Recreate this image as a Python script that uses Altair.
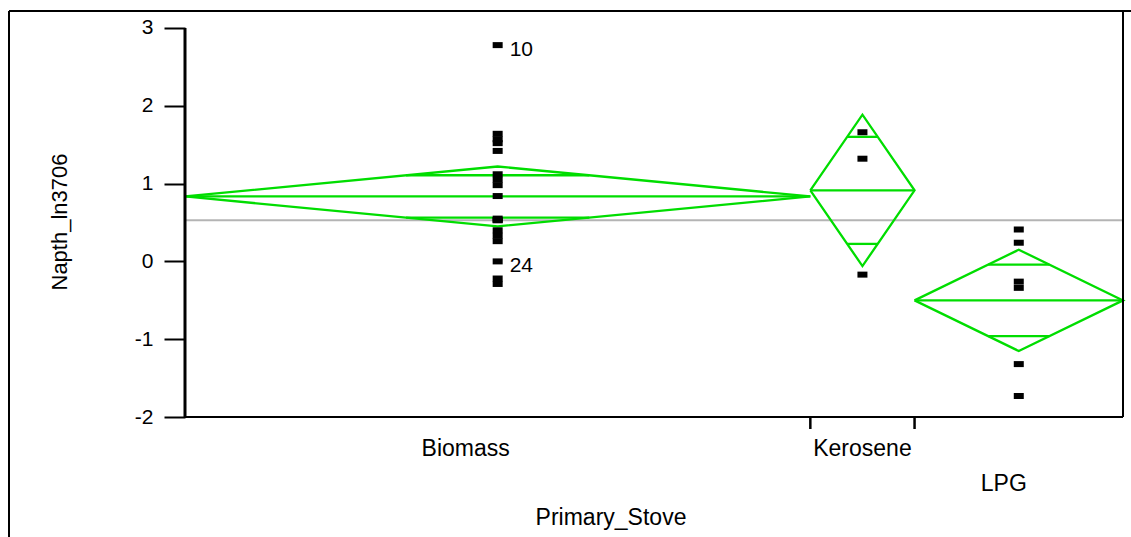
import altair as alt
import pandas as pd
import numpy as np

# ---- data ----
categories = ["Biomass", "Kerosene", "LPG"]
counts = [18, 3, 6]
biomass_vals = [2.78, 1.64, 1.57, 1.52, 1.42, 1.12, 1.05, 0.98, 0.84, 0.55, 0.53,
                0.53, 0.40, 0.33, 0.26, 0.00, -0.22, -0.29]
kerosene_vals = [1.66, 1.32, -0.17]
lpg_vals = [0.41, 0.24, -0.26, -0.34, -1.32, -1.73]
group_means = [0.835, 0.913, -0.501]
ci_half = [0.385, 0.973, 0.651]
grand_mean = 0.53
label_values = [2.78, 0.00]
label_texts = ["10", "24"]
y_ticks = [-2, -1, 0, 1, 2, 3]

FONT = "Liberation Sans"
GREEN = "#00dd00"

starts = np.concatenate([[0], np.cumsum(counts)[:-1]]).tolist()
total = int(sum(counts))
centers = [s + n / 2 for s, n in zip(starts, counts)]

xs = alt.Scale(domain=[0, total], nice=False, zero=False)
ys = alt.Scale(domain=[-2, 3.2185], nice=False, zero=False)
yaxis = alt.Axis(values=y_ticks, domain=False, grid=False, ticks=True, tickSize=21,
                 tickWidth=2, tickColor="black", labelFontSize=21, labelFont=FONT,
                 labelColor="black", labelPadding=11, title=None,
                 labelExpr="'' + datum.value")


def X(f):
    return alt.X(f, type="quantitative", scale=xs, axis=None)


def Y(f):
    return alt.Y(f, type="quantitative", scale=ys, axis=yaxis)


# points
pts = []
for cat, c, vals in zip(categories, centers, [biomass_vals, kerosene_vals, lpg_vals]):
    for v in vals:
        pts.append({"cat": cat, "x": c, "y": v})
pts = pd.DataFrame(pts)

# diamonds
dia = []
for cat, s, n, m, h in zip(categories, starts, counts, group_means, ci_half):
    c = s + n / 2
    seq = [(s, m), (c, m + h), (s + n, m), (c, m - h), (s, m)]
    for i, (xx, yy) in enumerate(seq):
        dia.append({"cat": cat, "o": i, "x": xx, "y": yy})
dia = pd.DataFrame(dia)

means_df = pd.DataFrame({"x": starts, "x2": [s + n for s, n in zip(starts, counts)],
                         "y": group_means})
ov = []
for s, n, m, h in zip(starts, counts, group_means, ci_half):
    c = s + n / 2
    hw = (n / 2) * (1 - 1 / np.sqrt(2))
    for sign in (1, -1):
        ov.append({"x": c - hw, "x2": c + hw, "y": m + sign * h / np.sqrt(2)})
ov = pd.DataFrame(ov)

grand = pd.DataFrame({"x": [0], "x2": [total], "y": [grand_mean]})
lab = pd.DataFrame({"x": [centers[0]] * len(label_values), "y": label_values,
                    "t": label_texts})
axis_line = pd.DataFrame({"y": [min(y_ticks)], "y2": [max(y_ticks)]})
xticks = pd.DataFrame({"x": [starts[1], starts[2]]})
dummy = pd.DataFrame({"a": [0]})

layers = []
layers.append(alt.Chart(grand).mark_rule(color="#b4b4b4", strokeWidth=2).encode(
    x=X("x"), x2="x2", y=Y("y")))
layers.append(alt.Chart(dia).mark_line(color=GREEN, strokeWidth=2.3).encode(
    x=X("x"), y=Y("y"), detail="cat:N", order="o:Q"))
layers.append(alt.Chart(means_df).mark_rule(color=GREEN, strokeWidth=2.3).encode(
    x=X("x"), x2="x2", y=Y("y")))
layers.append(alt.Chart(ov).mark_rule(color=GREEN, strokeWidth=2.3).encode(
    x=X("x"), x2="x2", y=Y("y")))
layers.append(alt.Chart(pts).mark_point(
    shape="M-1,-0.6L1,-0.6L1,0.6L-1,0.6Z", size=100, filled=True, color="black",
    opacity=1, strokeWidth=0).encode(x=X("x"), y=Y("y")))
layers.append(alt.Chart(lab).mark_text(align="left", baseline="middle", dx=12, dy=5,
                                       fontSize=21, font=FONT, color="black").encode(
    x=X("x"), y=Y("y"), text="t:N"))
# left axis line
layers.append(alt.Chart(axis_line).mark_rule(color="black", strokeWidth=3).encode(
    x=alt.value(0), y=Y("y"), y2="y2"))
# x ticks at category boundaries
layers.append(alt.Chart(xticks).mark_rule(color="black", strokeWidth=2.5).encode(
    x=X("x"), y=alt.value(406), y2=alt.value(418)))
# frame lines
frame = alt.Chart(dummy).mark_rule(color="black", strokeWidth=2)
layers.append(frame.encode(x=alt.value(0), x2=alt.value(938), y=alt.value(406)))
layers.append(frame.encode(x=alt.value(938), y=alt.value(0), y2=alt.value(406)))
layers.append(frame.encode(x=alt.value(-176), x2=alt.value(946), y=alt.value(0)))
layers.append(frame.encode(x=alt.value(-176), y=alt.value(0), y2=alt.value(526)))

# category labels
cat_dx = [-32, 0, -15]
cat_y = [438, 438, 473]
for cat, c, ddx, yy in zip(categories, centers, cat_dx, cat_y):
    layers.append(alt.Chart(pd.DataFrame({"x": [c], "t": [cat]})).mark_text(
        align="center", baseline="middle", dx=ddx, fontSize=23, font=FONT,
        color="black").encode(x=X("x"), y=alt.value(yy), text="t:N"))

layers.append(alt.Chart(pd.DataFrame({"t": ["Primary_Stove"]})).mark_text(
    align="center", baseline="middle", fontSize=23, font=FONT, color="black").encode(
    x=alt.value(426), y=alt.value(507), text="t:N"))
layers.append(alt.Chart(pd.DataFrame({"t": ["Napth_ln3706"]})).mark_text(
    align="center", baseline="middle", angle=270, fontSize=22, font=FONT,
    color="black").encode(x=alt.value(-125), y=alt.value(211), text="t:N"))

chart = alt.layer(*layers).properties(
    width=938, height=406,
    autosize=alt.AutoSizeParams(type="none"),
    padding={"left": 185, "top": 11, "right": 8, "bottom": 120},
    background="white",
).configure_view(strokeWidth=0)

chart.save("out.html", embed_options={"renderer": "svg", "actions": False})
